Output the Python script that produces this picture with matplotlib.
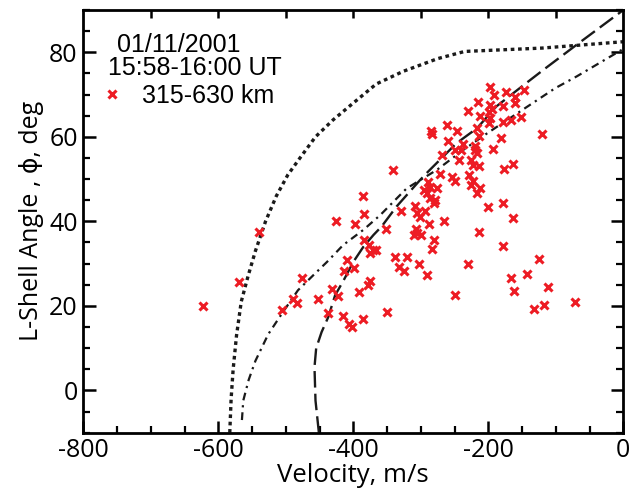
import matplotlib
matplotlib.use('Agg')
import matplotlib.pyplot as plt
import numpy as np

plt.rcParams['axes.unicode_minus'] = False

# observed points, 315-630 km
vel = [-622, -569, -540, -476, -489, -484, -505, -452, -432, -437, -423, -425,
       -386, -384, -397, -329, -351, -384, -377, -371, -376, -367, -409, -399,
       -414, -376, -378, -392, -415, -407, -402, -386, -350, -338, -321, -333,
       -325, -303, -291, -249, -230, -214, -201, -266, -288, -281, -284, -308,
       -305, -301, -294, -307, -305, -310, -300, -291, -286, -279, -295, -286,
       -289, -276, -280, -250, -222, -226, -212, -217, -229,
       -178, -163, -178, -125, -166, -143, -162, -111, -132, -117, -71,
       -341, -285, -284, -261, -247, -259, -230, -216, -197, -192, -174, -147,
       -161, -161, -197, -194, -199, -178, -212, -197, -199, -217, -178, -167,
       -152, -121, -181, -193, -214, -219, -219, -217, -237, -241, -250, -243,
       -268, -226, -222, -214, -272, -254, -177, -163]
ang = [20.0, 25.6, 37.5, 26.6, 21.7, 20.8, 19.0, 21.7, 24.1, 18.3, 22.4, 40.1,
       46.1, 41.7, 39.3, 42.5, 38.3, 35.7, 34.4, 33.2, 32.6, 33.2, 30.8, 29.0,
       28.2, 25.9, 24.9, 23.2, 17.6, 15.8, 15.0, 16.8, 18.5, 31.6, 31.5, 29.1,
       28.3, 29.9, 27.3, 22.5, 30.0, 37.5, 43.5, 40.0, 39.3, 35.7, 33.4, 43.6,
       41.9, 41.0, 42.5, 38.3, 37.2, 36.8, 36.8, 46.6, 45.5, 45.0, 47.4, 48.2,
       49.4, 47.8, 44.3, 49.6, 49.6, 48.6, 47.8, 46.8, 51.0,
       44.3, 40.9, 34.2, 31.0, 26.7, 27.6, 23.5, 24.4, 19.3, 20.2, 21.0,
       52.2, 61.4, 60.6, 62.7, 61.4, 59.1, 66.2, 68.3, 71.8, 70.0, 70.5, 71.0,
       69.4, 68.0, 67.6, 66.6, 65.8, 67.3, 65.0, 64.4, 63.2, 62.1, 63.6, 64.0,
       64.8, 60.6, 59.8, 57.1, 60.1, 57.9, 56.9, 56.1, 58.3, 56.9, 56.9, 54.5,
       55.7, 54.4, 53.4, 53.0, 51.2, 50.6, 52.4, 53.6]

# model curves
dot_v = [-583, -581, -578, -573, -566, -556, -545, -530, -514, -497, -479,
         -456, -430, -400, -366, -326, -275, -235, -120, 0]
dot_a = [-10, -2, 5, 13, 21, 27, 33, 40, 46, 51, 55, 60, 64, 68, 72.5, 75.5,
         78.5, 80.2, 81, 82.5]

dd_v = [-565, -563, -555, -545, -526, -504, -482, -459, -439, -415, -385, -360,
        -321, -276, -237, -202, -153, -101, -69, 0]
dd_a = [-7, -2.4, 2.5, 7, 13.3, 18.6, 23.7, 27.3, 30.4, 34.4, 38, 41.5, 47.8,
        52.2, 56.9, 60.8, 66, 71.5, 74.3, 80.8]

da_v = [-451, -456, -457.5, -455, -447, -437, -427, -414.5, -400, -385, -370,
        -358, -336, -301, -289, -247, -217, -188, -148, -118, -69, 0]
da_a = [-10, -2.4, 5.5, 10, 13.8, 17.4, 22.5, 26, 30.4, 34, 36.8, 38.8, 43.5,
        49.8, 51.8, 58.5, 62, 67.2, 72.2, 75.9, 81.8, 90]

red = '#ed1c24'

fig = plt.figure(figsize=(6.3, 4.96), dpi=100)
ax = fig.add_axes([0.1322, 0.1276, 0.8572, 0.8522])

ax.plot(dot_v, dot_a, color='#1a1a1a', lw=2.4, dashes=(1.1, 1.1), dash_capstyle='butt')
ax.plot(dd_v, dd_a, color='#1a1a1a', lw=1.6, dashes=(3.5, 2.2, 1.0, 2.2))
ax.plot(da_v, da_a, color='#1a1a1a', lw=1.7, dashes=(7, 2.6))
ax.plot(vel, ang, 'x', color=red, ms=6, mew=2.2, ls='none', label='315-630 km')

ax.set_xlim(-800, 0)
ax.set_ylim(-10, 90)
ax.set_xticks([-800, -600, -400, -200, 0])
ax.set_yticks([0, 20, 40, 60, 80])
ax.set_xticks(np.arange(-800, 1, 50), minor=True)
ax.set_yticks(np.arange(-10, 91, 5), minor=True)

tfont = ['Open Sans', 'DejaVu Sans']
fs = 18
for lab in ax.get_xticklabels() + ax.get_yticklabels():
    lab.set_fontfamily(tfont)
    lab.set_fontsize(fs)
ax.tick_params(which='major', direction='in', length=9, width=1.8, pad=4,
               right=True, top=False)
ax.tick_params(which='minor', direction='in', length=5, width=1.6,
               right=True, top=False)
# top axis: ticks every 100 m/s, no labels
sec = ax.secondary_xaxis('top')
sec.set_xticks(np.arange(-700, 0, 100))
sec.tick_params(direction='in', length=6, width=1.8, labeltop=False)
sec.spines['top'].set_visible(False)

for sp in ax.spines.values():
    sp.set_linewidth(2.0)

ax.set_xlabel('Velocity, m/s', fontfamily=tfont, fontsize=18.5, labelpad=0)
ax.set_ylabel('L-Shell Angle , ϕ, deg', fontfamily=tfont, fontsize=fs, labelpad=4)

lfont = 'Liberation Sans'
ax.text(0.062, 0.918, '01/11/2001', transform=ax.transAxes, fontfamily=lfont,
        fontsize=18, va='center', ha='left')
ax.text(0.045, 0.862, '15:58-16:00 UT', transform=ax.transAxes, fontfamily=lfont,
        fontsize=18, va='center', ha='left')
ax.legend(loc='center left', bbox_to_anchor=(0.033, 0.797), frameon=False,
          handlelength=0.9, handletextpad=0.75, borderpad=0, borderaxespad=0,
          prop={'family': lfont, 'size': 18})

fig.savefig('out.png', dpi=100)
